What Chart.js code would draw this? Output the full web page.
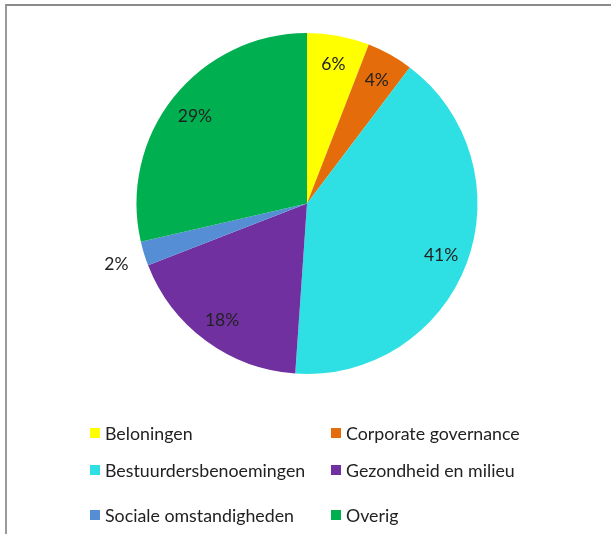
<!DOCTYPE html>
<html>
<head>
<meta charset="utf-8">
<script src="https://cdn.jsdelivr.net/npm/chart.js@4/dist/chart.umd.min.js"></script>
<style>
  html, body { margin: 0; padding: 0; background: #fff; }
  #wrap { position: relative; width: 611px; height: 534px; overflow: hidden; }
  #frame { position: absolute; left: 5px; top: 4px; width: 620px; height: 560px;
           border-top: 2px solid #8a8a8a; border-left: 2px solid #9a9a9a; box-sizing: border-box; }
  #chartBox { position: absolute; left: 0; top: 0; width: 611px; height: 400px; }
  #legend { position: absolute; left: 0; top: 0; width: 611px; height: 534px; pointer-events: none;
            font-family: Lato, "Noto Sans", sans-serif; font-size: 17.8px; color: #222; }
  .li { position: absolute; display: flex; align-items: center; white-space: nowrap; }
  .sw { width: 10px; height: 10px; margin-right: 5px; }
</style>
</head>
<body>
<div id="wrap">
  <div id="frame"></div>
  <div id="chartBox"><canvas id="c" width="611" height="400"></canvas></div>
  <div id="legend"></div>
</div>
<script>
const categories = ["Beloningen", "Corporate governance", "Bestuurdersbenoemingen", "Gezondheid en milieu", "Sociale omstandigheden", "Overig"];
const shares = [5.9, 4.4, 40.8, 18.0, 2.3, 28.6];
const pctLabels = ["6%", "4%", "41%", "18%", "2%", "29%"];
const colors = ["#FFFF00", "#E46C0A", "#2EE0E3", "#7030A0", "#558ED5", "#00B050"];

const labelPlugin = {
  id: 'pctLabels',
  afterDatasetsDraw(chart) {
    const ctx = chart.ctx;
    const meta = chart.getDatasetMeta(0);
    ctx.save();
    ctx.font = '17.5px Lato, "Noto Sans", sans-serif';
    ctx.fillStyle = '#222';
    ctx.textAlign = 'center';
    ctx.textBaseline = 'middle';
    meta.data.forEach((arc, i) => {
      const p = arc.getProps(['x', 'y', 'startAngle', 'endAngle', 'outerRadius'], true);
      const mid = (p.startAngle + p.endAngle) / 2;
      const f = shares[i] < 3 ? 1.17 : 0.84;
      const r = p.outerRadius * f;
      ctx.fillText(pctLabels[i], p.x + Math.cos(mid) * r, p.y + Math.sin(mid) * r + 2);
    });
    ctx.restore();
  }
};

const chart = new Chart(document.getElementById('c'), {
  type: 'pie',
  data: {
    labels: categories,
    datasets: [{ data: shares, backgroundColor: colors, borderWidth: 0 }]
  },
  options: {
    responsive: false,
    animation: false,
    layout: { padding: { top: 33, bottom: 26, left: 3, right: 0 } },
    plugins: {
      legend: { display: false },
      tooltip: { enabled: false }
    }
  },
  plugins: [labelPlugin]
});

// HTML legend, two columns
const legend = document.getElementById('legend');
const colX = [90, 331];
const rowY = [433, 470, 515];
categories.forEach((name, i) => {
  const d = document.createElement('div');
  d.className = 'li';
  d.style.left = colX[i % 2] + 'px';
  d.style.top = (rowY[Math.floor(i / 2)] - 11) + 'px';
  d.style.height = '22px';
  const sw = document.createElement('span');
  sw.className = 'sw';
  sw.style.background = colors[i];
  const t = document.createElement('span');
  t.textContent = name;
  d.appendChild(sw);
  d.appendChild(t);
  legend.appendChild(d);
});
</script>
</body>
</html>
